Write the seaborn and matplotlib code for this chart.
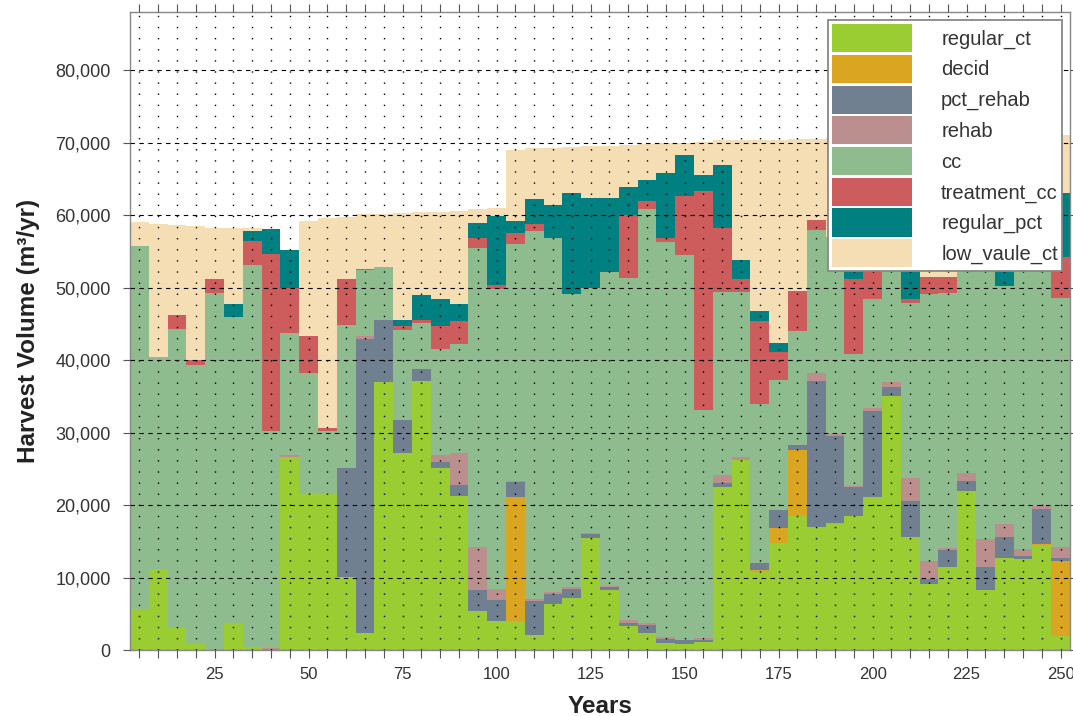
import numpy as np
import pandas as pd
import matplotlib
matplotlib.use("Agg")
import matplotlib.pyplot as plt
import matplotlib.ticker as mticker
from matplotlib.patches import Patch
import seaborn as sns

years = list(range(5, 255, 5))

series_names = ["regular_ct", "decid", "pct_rehab", "rehab", "cc",
                "treatment_cc", "regular_pct", "low_vaule_ct"]
series_colors = ["yellowgreen", "goldenrod", "slategray", "rosybrown",
                 "darkseagreen", "indianred", "teal", "wheat"]

# values in thousand m3/yr
regular_ct = [5.7, 11.3, 3.1, 0.9, 0, 3.8, 0.5, 0, 26.7, 21.6,
              21.6, 10.1, 2.4, 37.0, 27.2, 37.2, 25.1, 21.3, 5.4, 4.1,
              4.0, 2.2, 6.4, 7.3, 15.5, 8.3, 3.4, 2.4, 1.0, 0.9,
              1.2, 22.5, 26.2, 10.8, 14.8, 18.5, 17.0, 17.5, 18.5, 21.1,
              35.1, 15.7, 9.1, 11.5, 22.0, 8.3, 12.8, 12.6, 14.6, 2.0]
decid = [0, 0, 0, 0, 0, 0, 0, 0, 0, 0,
         0, 0, 0, 0, 0, 0, 0, 0, 0, 0,
         17.1, 0, 0, 0, 0, 0, 0, 0, 0, 0,
         0, 0, 0, 0.3, 2.1, 9.1, 0, 0.1, 0, 0,
         0, 0, 0, 0, 0, 0, 0, 0, 0.1, 10.4]
pct_rehab = [0, 0, 0, 0, 0, 0, 0, 0, 0, 0,
             0, 15.0, 40.6, 8.6, 4.6, 1.6, 0.9, 1.5, 2.9, 2.8,
             2.1, 4.6, 1.4, 1.2, 0.5, 0.4, 0.4, 1.1, 0.6, 0.6,
             0.3, 0.6, 0, 0.9, 2.5, 0.7, 20.2, 12.0, 4.0, 11.9,
             1.2, 4.9, 0.7, 2.4, 1.4, 3.2, 2.9, 0.4, 4.8, 0.3]
rehab = [0, 0, 0, 0, 0, 0, 0, 0.3, 0.3, 0,
         0, 0, 0.3, 0, 0, 0, 0.9, 4.4, 5.9, 1.6,
         0.2, 0.3, 0.2, 0.2, 0.2, 0.2, 0.4, 0.3, 0.2, 0,
         0.2, 1.1, 0.5, 0, 0, 0, 1.0, 0.2, 0.2, 0.4,
         0.7, 3.2, 2.6, 0.2, 1.0, 3.9, 1.8, 1.0, 0.4, 1.5]
cc = [50.0, 29.1, 41.2, 38.4, 49.3, 42.2, 52.6, 30.0, 16.7, 16.6,
      8.7, 19.7, 9.1, 7.2, 12.4, 6.3, 14.7, 15.1, 41.3, 41.3,
      32.6, 50.7, 48.8, 40.4, 33.8, 43.3, 47.1, 57.0, 54.5, 53.0,
      31.5, 25.2, 22.7, 22.0, 17.9, 15.7, 19.8, 27.2, 18.2, 15.0,
      21.0, 24.1, 36.7, 35.2, 31.6, 41.6, 32.7, 42.5, 37.6, 34.4]
treatment_cc = [0, 0, 1.9, 0.7, 1.9, 0, 3.3, 24.3, 6.2, 5.1,
                0.4, 6.4, 0.2, 0, 0.5, 0.5, 3.1, 3.1, 1.3, 0.6,
                1.5, 1.0, 0, 0, 0, 0, 8.7, 1.2, 0.5, 8.2,
                30.2, 8.8, 1.8, 11.4, 3.9, 5.6, 1.4, 0, 10.3, 6.6,
                0, 0.6, 2.4, 2.2, 0, 0, 0, 0, 0, 5.6]
regular_pct = [0, 0, 0, 0, 0, 1.7, 1.4, 3.5, 5.3, 0,
               0, 0, 0, 0, 0.9, 3.4, 3.8, 2.3, 2.1, 9.5,
               1.7, 3.4, 4.6, 14.0, 12.4, 10.2, 3.9, 2.8, 9.0, 5.6,
               2.1, 8.7, 2.6, 1.4, 1.2, 0, 0, 0, 1.8, 0,
               0, 4.0, 0, 0, 0, 0, 2.8, 0, 0, 8.9]
low_vaule_ct = [3.4, 18.4, 12.4, 18.5, 7.0, 10.5, 0.4, 0, 0, 15.9,
                28.9, 8.6, 7.5, 7.4, 14.7, 11.4, 12.0, 12.9, 1.9, 1.1,
                9.8, 7.0, 7.9, 6.3, 7.1, 7.2, 5.8, 5.0, 4.1, 1.7,
                4.6, 3.4, 16.5, 23.6, 28.0, 20.9, 11.1, 13.6, 17.6, 15.7,
                12.7, 18.3, 19.3, 19.4, 14.9, 14.0, 18.0, 14.5, 13.6, 8.0]

series_values = [regular_ct, decid, pct_rehab, rehab, cc,
                 treatment_cc, regular_pct, low_vaule_ct]

rows = []
for name, vals in zip(series_names, series_values):
    for yr, v in zip(years, vals):
        rows.append({"Years": float(yr), "series": name, "volume": v * 1000.0})
df = pd.DataFrame(rows)

sns.set_style("white")
plt.rcParams["font.family"] = ["Liberation Sans", "DejaVu Sans"]

fig = plt.figure(figsize=(10.73, 7.16), dpi=100)
ax = fig.add_axes([0.1212, 0.0915, 0.8760, 0.8917])

palette = dict(zip(series_names, series_colors))
sns.histplot(data=df, x="Years", weights="volume", hue="series",
             hue_order=series_names[::-1], palette=palette,
             multiple="stack", binwidth=5, binrange=(2.5, 252.5),
             element="bars", linewidth=0, alpha=1, legend=False, ax=ax)

ax.set_xlim(2.5, 252.5)
ax.set_ylim(0, 88000)

ax.xaxis.set_major_locator(mticker.MultipleLocator(25))
ax.xaxis.set_minor_locator(mticker.MultipleLocator(5))
ax.xaxis.set_major_formatter(mticker.FuncFormatter(lambda v, p: f"{int(v)}" if v >= 25 else ""))
ax.yaxis.set_major_locator(mticker.MultipleLocator(10000))
ax.yaxis.set_major_formatter(mticker.FuncFormatter(lambda v, p: f"{int(v):,}"))

ax.set_axisbelow(False)
ax.grid(False)
ax.grid(which="major", axis="y", color="black", linestyle=(0, (4, 4)), linewidth=0.8)
ax.grid(which="both", axis="x", color="black", linestyle=(0, (1, 7)), linewidth=1.0)

ax.tick_params(axis="x", which="both", bottom=True, top=True, direction="out",
               length=6, width=0.8, color="#555555", labelsize=12,
               labelcolor="#333333", pad=6)
ax.tick_params(axis="y", which="major", left=True, right=True, direction="out",
               length=5, width=0.8, color="#555555", labelsize=13,
               labelcolor="#333333", pad=9)

for sp in ax.spines.values():
    sp.set_visible(True)
    sp.set_color("#888888")
    sp.set_linewidth(1.0)

ax.set_xlabel("Years", fontsize=17.5, fontweight="bold", color="#222222", labelpad=9)
ax.set_ylabel("Harvest Volume (m³/yr)", fontsize=17.5, fontweight="bold",
              color="#222222", labelpad=11)

handles = [Patch(facecolor=c, edgecolor="none", label=n)
           for n, c in zip(series_names, series_colors)]
leg = ax.legend(handles=handles, loc="upper right", frameon=True, fancybox=False,
                framealpha=1, edgecolor="#888888", fontsize=14.5,
                handlelength=3.98, handleheight=1.77, labelspacing=0.13,
                handletextpad=1.44, borderpad=0.2, borderaxespad=0.4)
leg.get_frame().set_linewidth(1.3)
for t in leg.get_texts():
    t.set_color("#333333")

fig.savefig("out.png", dpi=100)
